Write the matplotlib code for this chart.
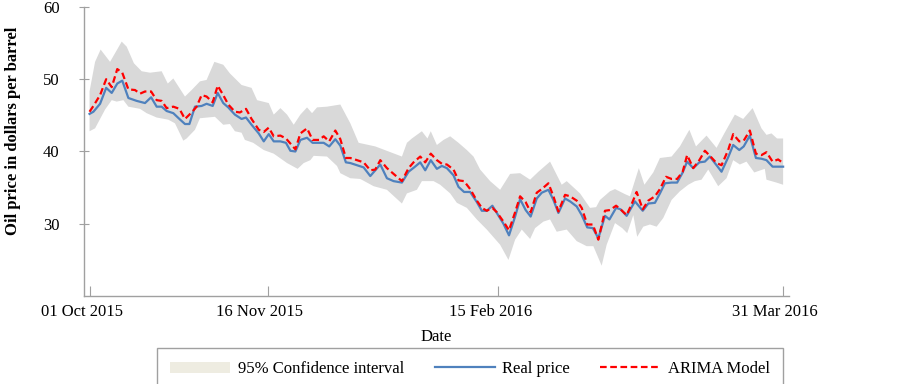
import matplotlib
matplotlib.use('Agg')
import matplotlib.pyplot as plt
import matplotlib.transforms as mtrans
from matplotlib.patches import Patch
from matplotlib.lines import Line2D

plt.rcParams['font.family'] = ['Liberation Serif', 'DejaVu Serif']

# ── DATA (x = trading-day index from 01 Oct 2015, y = USD per barrel) ──
real_day = [0, 0.7, 1.9, 3.0, 4.0, 5.0, 5.9, 7.0, 8.5, 10.0, 11.1, 12.1, 13.0, 13.9, 15.1, 16.2,
            17.2, 18.0, 19.0, 20.2, 21.1, 22.2, 23.1, 24.1, 25.0, 26.2, 27.4, 28.2, 29.2, 30.5,
            31.4, 32.3, 33.2, 34.4, 35.4, 36.2, 37.1, 38.0, 39.2, 40.2, 41.4, 42.2, 43.2, 44.3,
            45.2, 46.2, 47.0, 48.2,
            49.4, 50.6, 51.5, 52.4, 53.6, 54.8, 56.3, 57.5, 58.5, 59.6, 60.5, 61.5, 62.6, 63.5,
            64.4, 65.6, 66.5, 67.5, 68.6, 69.8, 70.7, 71.6, 72.6, 73.4, 74.6, 75.6, 76.7, 77.6,
            78.6, 79.5, 80.6, 81.5, 82.7, 83.6, 84.5, 85.7, 86.6, 87.8, 88.7, 89.7, 90.7, 91.7,
            92.9, 93.7, 94.9, 95.7, 96.8, 98.3, 99.7, 100.7, 101.9, 102.8, 103.7, 104.9, 105.9,
            106.9, 107.7, 108.8, 109.9, 110.9, 111.8, 113.0, 113.9, 115.1, 116.0, 117.1, 117.9,
            119.0, 120.1, 121.1, 122.0, 123.1, 124.1, 125.0]
real_price = [45.2, 45.5, 46.6, 48.8, 48.1, 49.4, 49.8, 47.4, 47.0, 46.7, 47.5, 46.2, 46.2, 45.6,
              45.3, 44.5, 43.8, 43.8, 46.2, 46.3, 46.6, 46.3, 48.1, 46.7, 46.1, 45.1, 44.5, 44.7,
              43.7, 42.5, 41.4, 42.4, 41.4, 41.4, 41.2, 40.1, 40.0, 41.6, 41.9, 41.2, 41.2, 41.2,
              40.7, 41.7, 40.8, 38.5, 38.4, 38.1,
              37.8, 36.6, 37.4, 38.2, 36.3, 35.9, 35.7, 37.2, 37.8, 38.5, 37.4, 38.8, 37.6, 38.0,
              37.7, 36.7, 35.1, 34.4, 34.4, 33.0, 31.8, 31.8, 32.5, 31.5, 30.0, 28.4, 31.0, 33.4,
              31.9, 31.0, 33.5, 34.3, 34.7, 33.3, 31.5, 33.5, 33.1, 32.4, 31.2, 29.5, 29.4, 28.0,
              31.1, 30.6, 32.2, 32.0, 31.1, 33.1, 31.8, 32.8, 32.9, 34.2, 35.6, 35.7, 35.7, 37.1,
              38.6, 37.7, 38.5, 38.6, 39.3, 38.1, 37.2, 39.2, 40.9, 40.2, 40.7, 42.2, 39.1, 39.0,
              38.8, 37.9, 37.9, 37.9]

arima_day = [0, 0.7, 1.9, 3.0, 4.0, 5.0, 5.9, 7.0, 8.2, 9.1, 10.0, 11.1, 12.1, 13.0, 13.9, 15.1,
             16.2, 17.2, 18.4, 19.3, 20.2, 21.1, 22.2, 23.1, 24.1, 25.0, 26.2, 27.1, 28.2, 29.2,
             30.5, 31.4, 32.3, 33.2, 34.4, 35.4, 36.2, 37.1, 38.0, 39.2, 40.2, 41.4, 42.2, 43.2,
             44.3, 45.2, 46.2, 47.0, 48.2,
             49.4, 50.6, 51.5, 52.4, 53.6, 54.8, 56.3, 57.5, 58.4, 59.6, 60.5, 61.5, 62.6, 63.5,
             64.4, 65.6, 66.5, 67.5, 68.6, 69.8, 70.7, 71.6, 72.6, 73.4, 74.6, 75.6, 76.7, 77.6,
             78.6, 79.5, 80.6, 81.5, 82.7, 83.6, 84.5, 85.7, 86.6, 87.8, 88.7, 89.7, 90.7, 91.7,
             92.9, 93.8, 94.9, 95.7, 96.8, 97.8, 98.6, 99.7, 100.7, 101.9, 102.8, 103.9, 104.9,
             105.9, 106.9, 107.7, 108.8, 109.9, 110.9, 111.8, 113.0, 113.9, 115.1, 116.0, 117.1,
             117.9, 119.0, 120.1, 121.1, 122.0, 123.1, 124.1, 125.0]
arima_price = [45.5, 46.3, 47.8, 50.0, 48.9, 51.4, 50.9, 48.6, 48.5, 48.0, 48.3, 48.3, 47.1, 47.0,
               46.0, 46.2, 45.9, 44.5, 45.4, 46.2, 47.8, 47.6, 46.8, 49.1, 47.8, 46.5, 45.5, 45.4,
               45.9, 44.5, 43.0, 42.7, 43.3, 42.1, 42.2, 41.8, 41.1, 40.3, 42.5, 43.2, 41.6, 41.6,
               42.1, 41.4, 42.9, 41.7, 39.1, 39.1, 38.8,
               38.5, 37.4, 37.5, 38.8, 37.7, 36.9, 35.9, 37.7, 38.5, 39.3, 38.5, 39.7, 38.8, 38.3,
               38.2, 37.5, 36.0, 35.9, 34.8, 33.2, 32.2, 31.8, 32.2, 31.6, 30.3, 29.1, 31.6, 33.8,
               33.0, 31.6, 34.3, 34.8, 35.6, 33.8, 31.7, 34.0, 33.8, 33.2, 32.2, 29.9, 29.9, 27.8,
               31.8, 31.9, 32.5, 32.0, 31.2, 32.9, 34.4, 32.0, 33.2, 33.8, 34.8, 36.5, 36.2, 36.2,
               37.2, 39.5, 37.7, 38.8, 40.1, 39.4, 38.4, 38.1, 40.2, 42.4, 41.4, 41.5, 42.9, 39.7,
               39.5, 39.9, 38.6, 38.9, 38.4]

upper_day = [0, 1.0, 2.0, 3.7, 5.8, 6.7, 8.0, 9.4, 10.9, 13.0, 14.1, 15.1, 17.2, 18.4, 19.9, 21.1,
             22.5, 24.1, 25.3, 27.4, 29.2, 30.2, 32.3, 33.2, 34.4, 35.6, 36.8, 38.0, 39.2, 40.1,
             41.0, 42.8, 45.2, 47.0, 48.5,
             51.5, 53.9, 56.3, 57.2, 58.1, 59.9, 60.9, 61.5, 62.6, 63.8, 65.0, 66.5, 68.0, 69.2,
             70.4, 72.2, 74.0, 75.8, 77.6, 79.4, 80.9, 83.0, 85.1, 86.0, 88.4, 90.2, 91.3,
             92.0, 93.8, 94.7, 96.5, 97.4, 99.0, 100.0, 101.6, 102.8, 104.9, 106.4, 108.1, 109.3,
             111.2, 113.0, 114.4, 116.3, 117.8, 119.5, 121.1, 122.0, 122.9, 123.9, 125.0]
upper_ci = [48.3, 52.4, 54.1, 52.4, 55.2, 54.5, 52.2, 51.1, 50.9, 51.1, 49.4, 50.1, 47.6, 48.5,
            49.7, 49.9, 52.4, 52.0, 50.8, 49.2, 48.8, 47.1, 46.7, 45.1, 46.0, 45.1, 43.7, 45.1,
            46.1, 45.3, 46.1, 46.2, 46.5, 43.9, 41.2,
            40.7, 40.0, 39.3, 41.2, 41.8, 42.8, 41.8, 42.8, 40.9, 41.6, 42.1, 41.2, 40.2, 39.3,
            37.5, 35.9, 34.7, 36.9, 37.0, 36.1, 37.2, 38.6, 35.4, 35.9, 34.2, 32.2, 32.3,
            33.3, 34.5, 34.8, 34.1, 33.8, 37.7, 35.4, 37.1, 39.1, 39.3, 40.7, 43.0, 40.7, 42.2,
            40.5, 42.5, 45.1, 44.5, 46.0, 43.2, 42.3, 42.5, 41.8, 41.8]

lower_day = [0, 1.0, 2.8, 4.0, 4.9, 6.1, 7.0, 9.1, 10.3, 12.1, 14.2, 15.4, 16.9, 17.5, 19.0, 19.9,
             22.6, 24.1, 25.3, 26.2, 27.4, 28.0, 29.5, 31.4, 33.2, 35.6, 37.5, 38.6, 39.8, 40.4,
             42.8, 44.6, 45.2, 47.0, 48.8,
             51.2, 53.6, 56.3, 57.2, 59.0, 59.9, 62.0, 63.2, 65.0, 66.2, 68.0, 69.8, 71.6, 74.0,
             75.5, 76.7, 77.9, 79.4, 80.3, 81.8, 83.0, 84.2, 86.0, 87.8, 89.6, 90.8, 92.3,
             93.2, 94.7, 96.0, 96.9, 98.0, 98.7, 99.8, 101.0, 102.2, 103.4, 104.9, 106.4, 107.9,
             109.1, 110.3, 111.5, 113.3, 114.8, 116.0, 117.2, 118.4, 119.8, 121.7, 122.0, 123.8,
             125.0]
lower_ci = [42.8, 43.2, 45.8, 47.1, 46.9, 47.1, 46.2, 45.9, 45.3, 44.7, 44.4, 43.9, 41.5, 41.8,
            43.0, 44.6, 44.8, 43.7, 43.8, 42.8, 42.6, 41.6, 41.2, 40.2, 39.7, 38.4, 37.6, 38.4,
            38.8, 39.4, 39.3, 38.0, 37.0, 36.3, 36.2,
            35.2, 34.7, 32.8, 34.2, 34.7, 35.9, 35.9, 35.4, 34.2, 32.9, 32.2, 30.6, 29.2, 27.1,
            25.0, 27.8, 29.2, 27.9, 29.4, 30.3, 30.6, 28.9, 29.2, 27.6, 26.9, 26.9, 24.2,
            27.1, 30.1, 29.4, 28.7, 31.2, 28.2, 29.6, 29.9, 29.6, 30.8, 33.3, 34.5, 35.4, 35.9,
            36.1, 37.5, 35.2, 36.3, 38.8, 38.2, 38.6, 37.1, 37.6, 36.1, 35.7, 35.4]

tick_day = [0, 32.1, 73.7, 125]
tick_labels = ['01 Oct 2015', '16 Nov 2015', '15 Feb 2016', '31 Mar 2016']
y_ticks = [30, 40, 50, 60]

# ── STYLE ──
BAND = '#d9d9d9'
BAND_KEY = '#eeece1'
BLUE = '#4f81bd'
RED = '#ff0000'
AXIS = '#a0a0a0'
DASH = (0, (3, 1.6))

fig = plt.figure(figsize=(9.03, 3.84), dpi=100)
ax = fig.add_axes([0.093, 0.229, 0.781, 0.753])

ax.fill(upper_day + lower_day[::-1], upper_ci + lower_ci[::-1],
        color=BAND, linewidth=0, zorder=1)
ax.plot(real_day, real_price, color=BLUE, linewidth=1.6, zorder=2)
ax.plot(arima_day, arima_price, color=RED, linewidth=1.6, linestyle=DASH, zorder=3)

ax.set_xlim(-1, 126.1)
ax.set_ylim(20, 60)
ax.set_xticks(tick_day)
ax.set_xticklabels(tick_labels, fontsize=12)
ax.set_yticks(y_ticks)
ax.set_yticklabels([str(v) for v in y_ticks], fontsize=12)

for s in ['top', 'right']:
    ax.spines[s].set_visible(False)
for s in ['left', 'bottom']:
    ax.spines[s].set_color(AXIS)
    ax.spines[s].set_linewidth(1.0)

ax.tick_params(axis='x', direction='in', length=7, color=AXIS, pad=6)
ax.tick_params(axis='y', direction='inout', length=7, color=AXIS, pad=14)

# labels sit a little left of their tick marks
shift = mtrans.ScaledTranslation(-0.08, 0, fig.dpi_scale_trans)
for lab in ax.get_xticklabels():
    lab.set_transform(lab.get_transform() + shift)

ax.set_xlabel('Date', fontsize=12, labelpad=6)
ax.set_ylabel('Oil price in dollars per barrel', fontsize=12, fontweight='bold')
ax.yaxis.set_label_coords(-0.089, 0.57)

# ── LEGEND ──
handles = [Patch(facecolor=BAND_KEY, edgecolor='none'),
           Line2D([], [], color=BLUE, linewidth=1.6),
           Line2D([], [], color=RED, linewidth=1.6, linestyle=DASH)]
labels = ['95% Confidence interval', 'Real price', 'ARIMA Model']
leg = fig.legend(handles, labels, loc='upper left',
                 bbox_to_anchor=(0.174, 0.0, 0.693, 0.094), mode='expand',
                 ncol=3, fontsize=12, handlelength=3.6, handletextpad=0.45,
                 borderpad=0.8, fancybox=False, edgecolor=AXIS,
                 borderaxespad=0, framealpha=1)
leg.get_frame().set_linewidth(1.0)

fig.savefig('out.png', dpi=100)
